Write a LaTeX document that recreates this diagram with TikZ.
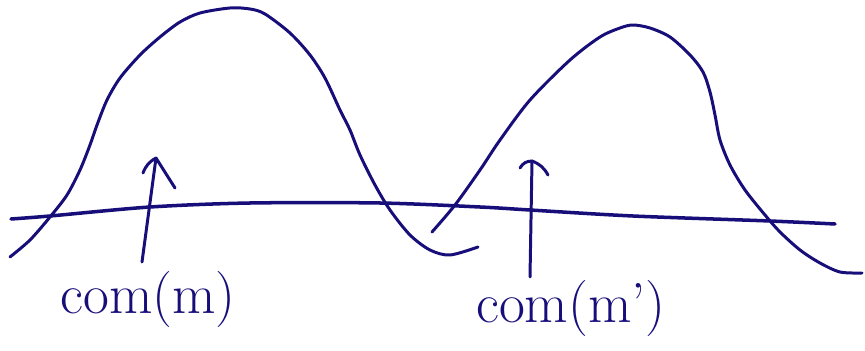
\documentclass[tikz,border=0pt]{standalone}
\usepackage{tikz}
\usetikzlibrary{calc}
\definecolor{pen}{RGB}{24,14,122}

\begin{document}
\begin{tikzpicture}[x=0.02cm, y=-0.02cm, line width=1.7pt, line cap=round, line join=round, draw=pen,
	label/.style={text=pen, font=\fontsize{32}{32}\selectfont, inner sep=0pt}]
%	1px = 0.02cm で座標は画像のまま
	\useasboundingbox (0, 0) rectangle (865, 351);
	\draw[smooth] plot coordinates {(10, 257) (30, 240) (50, 217) (67, 195) (80, 170) (90, 145) (97, 125) (107, 100) (120, 78) (140, 55) (160, 37) (180, 22) (200, 13) (230, 8) (250, 9) (265, 14) (290, 33) (310, 55) (325, 78) (340, 110) (350, 130) (360, 155) (375, 185) (390, 210) (410, 235) (430, 250) (450, 255) (478, 247)}; %左の山
	\draw[smooth] plot coordinates {(432, 232) (455, 205) (480, 170) (500, 140) (530, 100) (570, 60) (600, 37) (620, 28) (633, 25) (650, 28) (670, 37) (690, 55) (703, 72) (710, 92) (715, 115) (720, 140) (730, 165) (745, 190) (765, 215) (780, 232) (800, 250) (820, 263) (840, 272) (862, 273)}; %右の山
	\draw[smooth, line width=2pt] plot coordinates {(11, 219) (50, 216) (150, 207) (250, 203) (380, 203) (480, 207) (530, 210) (633, 216) (770, 221) (835, 224)}; %横線
	\node[label] (comL) at (148, 299) {com(m)}; %左のラベル
	\node[label] (comR) at (571, 308) {com(m')}; %右のラベル
	\coordinate (baseL) at (142, 262);
	\coordinate (tipL) at (156, 158);
	\coordinate (baseR) at (530, 277);
	\coordinate (tipR) at (532, 161);
	\draw (baseL)-- (tipL); %左の矢印
	\draw ($(tipL)+(-13, 15)$) to[bend left=20] (tipL)-- ++(19, 30); %左の矢じり
	\draw (baseR)-- (tipR); %右の矢印
	\draw ($(tipR)+(-12, 7)$) to[bend left=30] (tipR) to[bend left=20] ++(16, 14); %右の矢じり
\end{tikzpicture}
\end{document}
